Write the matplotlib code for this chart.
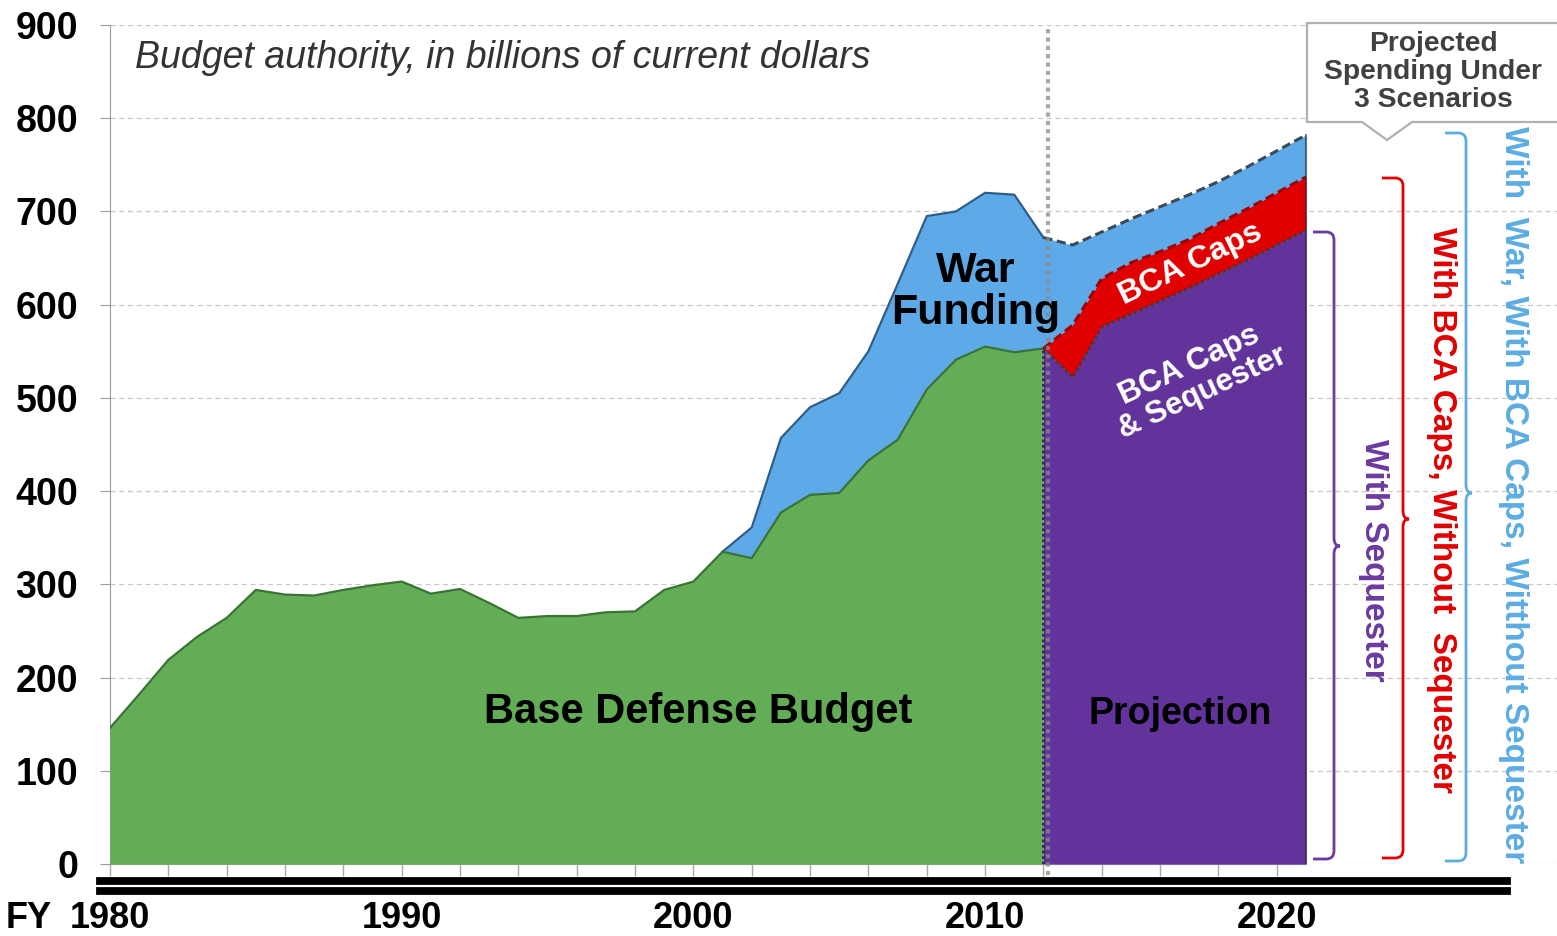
import matplotlib
matplotlib.use("Agg")
import matplotlib.pyplot as plt
import matplotlib.transforms as mtransforms
from matplotlib.lines import Line2D
from matplotlib.patches import Polygon, PathPatch
from matplotlib.path import Path

# --- data (billions of current dollars) ---
hist_years = list(range(1980, 2013))
base_budget = [146, 182, 219, 244, 264, 294, 289, 288, 294, 299,
               303, 290, 295, 280, 264, 266, 266, 270, 271, 294,
               303, 335, 328, 377, 396, 398, 433, 455, 509, 541,
               555, 549, 553]

all_years = list(range(1980, 2022))
with_war = base_budget[:21] + [335, 361, 457, 490, 505, 550, 622, 695, 700, 720, 718, 672] + \
           [664, 678, 692, 705, 718, 732, 748, 765, 782]

proj_years = list(range(2012, 2022))
bca_caps = [553, 578, 628, 645, 657, 670, 687, 703, 720, 737]
sequester = [553, 522, 576, 590, 604, 618, 633, 648, 664, 680]

war_start = 2001
proj_start = 2012

GREEN = "#63AD57"
BLUE = "#5EAAE8"
RED = "#E00000"
PURPLE = "#62339A"

SANS = ["Liberation Sans", "DejaVu Sans"]

W, H = 1557, 936


def fx(x):
    return x / W


def fy(y):
    return 1 - y / H


fig = plt.figure(figsize=(W / 100, H / 100), dpi=100)
ax = fig.add_axes([fx(110), fy(864), 1 - fx(110), (864 - 25) / H])
ax.set_xlim(1980, 1980 + (W - 110) / 29.17)
ax.set_ylim(0, 900)

# grid
ax.set_yticks(range(0, 1000, 100))
ax.yaxis.grid(True, linestyle=(0, (4, 3)), color="#C8C8C8", lw=0.9)
ax.set_axisbelow(True)

# areas
ax.fill_between(all_years, 0, with_war, color=BLUE, lw=0, zorder=2)
ax.fill_between(proj_years, sequester, bca_caps, color=RED, lw=0, zorder=3)
ax.fill_between(proj_years, 0, sequester, color=PURPLE, lw=0, zorder=4)
ax.fill_between(hist_years, 0, base_budget, color=GREEN, lw=0, zorder=5)

# edges
iw = all_years.index(war_start)
ip = all_years.index(proj_start)
ax.plot(all_years[iw:ip + 1], with_war[iw:ip + 1], color="#2E5D86", lw=1.6, zorder=6)
ax.plot(all_years[ip:], with_war[ip:], color="#3A4A58", lw=2.2, ls=(0, (3, 1.5)), zorder=6)
ax.plot(hist_years, base_budget, color="#3B7334", lw=1.6, zorder=6)
ax.plot(proj_years, bca_caps, color="#A00000", lw=2.2, ls=(0, (3, 1.5)), zorder=6)
ax.plot(proj_years, sequester, color="#3B3B4A", lw=2.2, ls=(0, (1, 1)), zorder=6)
ax.plot([proj_years[0], proj_years[0]], [0, sequester[0]], color="#3B2060", lw=2, ls=(0, (1, 1)), zorder=6)
ax.plot([proj_years[-1], proj_years[-1]], [0, with_war[-1]], color="#2A2A40", lw=1.5, alpha=0.6, zorder=6)

# projection divider
ax.plot([proj_start + 0.15, proj_start + 0.15], [-12, 900], color="#8A8A8A", lw=3,
        ls=(0, (1, 1)), alpha=0.75, zorder=7, clip_on=False)

# spines and ticks
for s in ("top", "right"):
    ax.spines[s].set_visible(False)
ax.spines["left"].set_color("#9A9A9A")
ax.spines["bottom"].set_color("#9A9A9A")
ax.spines["left"].set_bounds(0, 900)
ax.spines["bottom"].set_bounds(1980, 2021)
ax.tick_params(axis="y", length=7, color="#9A9A9A", pad=16)
for lab in ax.get_yticklabels():
    lab.set_fontfamily(SANS)
    lab.set_fontweight("bold")
    lab.set_fontsize(27)
ax.set_xticks([])
ax.set_xticks(range(1980, 2021, 2), minor=True)
ax.tick_params(axis="x", which="minor", length=8.5, color="#A8A8A8", width=1)

# year labels
trans = mtransforms.blended_transform_factory(ax.transData, fig.transFigure)
for yr in [1980, 1990, 2000, 2010, 2020]:
    ax.text(yr, fy(919), str(yr), transform=trans, ha="center", va="center",
            fontsize=26, fontweight="bold", family=SANS)
fig.text(fx(29), fy(919), "FY", ha="center", va="center", fontsize=26,
         fontweight="bold", family=SANS)

# thick rules under the axis
for yy in (881, 890.5):
    fig.add_artist(Line2D([fx(100), fx(1507)], [fy(yy), fy(yy)], color="black", lw=5.6))

# chart labels
fig.text(fx(135), fy(58), "Budget authority, in billions of current dollars", ha="left",
         va="center", fontsize=27, style="italic", color="#333333", family=SANS)
fig.text(fx(976), fy(292), "War\nFunding", ha="center", va="center", fontsize=31,
         fontweight="bold", family=SANS, linespacing=1.05)
fig.text(fx(1191), fy(264), "BCA Caps", ha="center", va="center", fontsize=23,
         fontweight="bold", color="white", rotation=25.5, family=SANS)
fig.text(fx(1196), fy(379), "BCA Caps\n& Sequester", ha="center", va="center", fontsize=22.5,
         fontweight="bold", color="white", rotation=25, family=SANS, linespacing=1.0)
fig.text(fx(698), fy(712), "Base Defense Budget", ha="center", va="center", fontsize=30,
         fontweight="bold", family=SANS)
fig.text(fx(1180), fy(714), "Projection", ha="center", va="center", fontsize=27,
         fontweight="bold", family=SANS)

# callout box
box = [(1307, 23), (1565, 23), (1565, 122), (1412, 122), (1387, 140), (1362, 122), (1307, 122)]
fig.add_artist(Polygon([(fx(x), fy(y)) for x, y in box], closed=True, facecolor="white",
                       edgecolor="#B0B0B0", lw=1.6, transform=fig.transFigure))
fig.text(fx(1433), fy(72), "Projected\nSpending Under\n3 Scenarios", ha="center", va="center",
         fontsize=20.3, fontweight="bold", color="#404040", family=SANS, linespacing=1.12)


def bracket(xv, ytop, ymid, ybot, color, hook=21, notch=6, r=8):
    pts = [(xv - hook, ytop), (xv - r, ytop), (xv, ytop), (xv, ytop + r),
           (xv, ymid - r), (xv, ymid), (xv + notch, ymid),
           (xv, ymid), (xv, ymid + r),
           (xv, ybot - r), (xv, ybot), (xv - r, ybot), (xv - hook, ybot)]
    codes = [Path.MOVETO, Path.LINETO, Path.CURVE3, Path.CURVE3,
             Path.LINETO, Path.CURVE3, Path.CURVE3,
             Path.CURVE3, Path.CURVE3,
             Path.LINETO, Path.CURVE3, Path.CURVE3, Path.LINETO]
    path = Path([(fx(x), fy(y)) for x, y in pts], codes)
    fig.add_artist(PathPatch(path, fill=False, edgecolor=color, lw=2,
                             transform=fig.transFigure))


bracket(1334, 232, 546, 859, "#6A3AA0")
bracket(1403, 178, 519, 858, RED)
bracket(1466, 133, 493, 861, "#5DADE2")

fig.text(fx(1373), fy(560), "With Sequester", rotation=-90, ha="center", va="center",
         fontsize=24, fontweight="bold", color="#6A3AA0", family=SANS)
fig.text(fx(1441), fy(510), "With BCA Caps, Without  Sequester", rotation=-90, ha="center",
         va="center", fontsize=24, fontweight="bold", color=RED, family=SANS)
fig.text(fx(1513), fy(495), "With  War, With BCA Caps, Witthout Sequester", rotation=-90,
         ha="center", va="center", fontsize=24, fontweight="bold", color="#5DADE2", family=SANS)

fig.savefig("out.png", dpi=100)
